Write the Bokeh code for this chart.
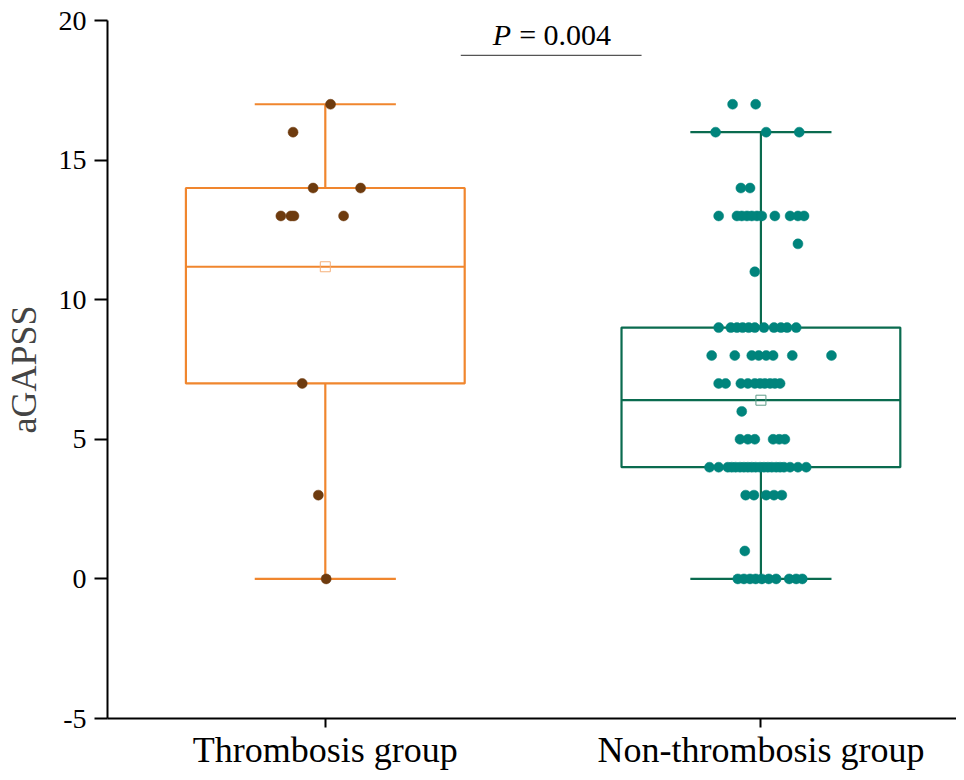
from bokeh.plotting import figure
from bokeh.models import Range1d, FixedTicker, ColumnDataSource
from bokeh.core.properties import value
from bokeh.embed import file_html
from bokeh.resources import INLINE

# ---------------- data ----------------
groups = ["Thrombosis group", "Non-thrombosis group"]
group_pos = [1, 2]

# box statistics
box_q1 = [7, 4]
box_q3 = [14, 9]
box_center = [11.18, 6.4]
box_low = [0, 0]
box_high = [17, 16]
box_mean = [11.18, 6.4]

# individual scores (with horizontal jitter in category units)
thr_vals = [17, 16, 14, 14, 13, 13, 13, 13, 7, 3, 0]
thr_jit = [0.012, -0.074, -0.028, 0.081, -0.102, -0.079, -0.072, 0.042, -0.053, -0.016, 0.002]

non_vals = (
    [17, 17]
    + [16, 16, 16]
    + [14, 14]
    + [13] * 11
    + [12]
    + [11]
    + [9] * 11
    + [8] * 8
    + [7] * 10
    + [6]
    + [5] * 6
    + [4] * 20
    + [3] * 5
    + [1]
    + [0] * 10
)
non_jit = (
    [-0.065, -0.012]
    + [-0.104, 0.012, 0.088]
    + [-0.046, -0.025]
    + [-0.097, -0.055, -0.044, -0.032, -0.021, -0.009, 0.002, 0.032, 0.067, 0.085, 0.099]
    + [0.085]
    + [-0.014]
    + [-0.097, -0.069, -0.055, -0.042, -0.028, -0.014, 0.007, 0.030, 0.046, 0.060, 0.081]
    + [-0.113, -0.060, -0.021, -0.005, 0.012, 0.028, 0.072, 0.162]
    + [-0.097, -0.081, -0.046, -0.030, -0.014, -0.002, 0.009, 0.021, 0.032, 0.044]
    + [-0.044]
    + [-0.048, -0.030, -0.014, 0.028, 0.042, 0.055]
    + [-0.118, -0.097, -0.076, -0.067, -0.058, -0.048, -0.039, -0.030, -0.021, -0.012,
       -0.002, 0.007, 0.016, 0.025, 0.035, 0.044, 0.053, 0.067, 0.085, 0.104]
    + [-0.035, -0.016, 0.012, 0.030, 0.048]
    + [-0.037]
    + [-0.053, -0.039, -0.025, -0.012, 0.002, 0.018, 0.035, 0.065, 0.081, 0.095]
)

p_text_italic = "P"
p_text_rest = "= 0.004"
sig_x = [1.311, 1.726]
sig_y = 18.75

y_ticks = [-5, 0, 5, 10, 15, 20]
y_minor = [-2.5, 2.5, 7.5, 12.5, 17.5]
y_tick_labels = ["-5", "0", "5", "10", "15", "20"]

# ---------------- style ----------------
FONT = "Liberation Serif"
box_colors = ["#F0862E", "#0A6B4F"]
pt_colors = ["#6E3B0E", "#00847C"]
mean_colors = ["#F5B07A", "#5E9C88"]
BOX_HALF = 0.32
CAP_HALF = 0.162

p = figure(width=956, height=772, output_backend="svg", toolbar_location=None,
           x_range=Range1d(0.5, 2.449), y_range=Range1d(-5, 20),
           min_border_left=100, min_border_top=20, min_border_bottom=52,
           min_border_right=0)
p.outline_line_color = None
p.grid.visible = False

# boxes
src = ColumnDataSource(dict(
    x=group_pos, q1=box_q1, q3=box_q3, c=box_center, lo=box_low, hi=box_high,
    mean=box_mean, color=box_colors, mcolor=mean_colors,
    left=[g - BOX_HALF for g in group_pos], right=[g + BOX_HALF for g in group_pos],
    capl=[g - CAP_HALF for g in group_pos], capr=[g + CAP_HALF for g in group_pos],
))
p.segment(x0="x", y0="q3", x1="x", y1="hi", source=src, line_color="color", line_width=2.2)
p.segment(x0="x", y0="lo", x1="x", y1="q1", source=src, line_color="color", line_width=2.2)
p.segment(x0="capl", y0="hi", x1="capr", y1="hi", source=src, line_color="color", line_width=2.2)
p.segment(x0="capl", y0="lo", x1="capr", y1="lo", source=src, line_color="color", line_width=2.2)
p.quad(left="left", right="right", bottom="q1", top="q3", source=src,
       fill_color=None, line_color="color", line_width=2.2)
p.segment(x0="left", y0="c", x1="right", y1="c", source=src, line_color="color", line_width=2.2)
p.scatter(x="x", y="mean", source=src, marker="square", size=10, fill_color=None,
          line_color="mcolor", line_width=1)

# points
p.scatter(x=[group_pos[0] + j for j in thr_jit], y=thr_vals, size=10,
          fill_color=pt_colors[0], line_color=pt_colors[0], line_width=0.5)
p.scatter(x=[group_pos[1] + j for j in non_jit], y=non_vals, size=10,
          fill_color=pt_colors[1], line_color=pt_colors[1], line_width=0.5)

# significance annotation
p.line(x=sig_x, y=[sig_y, sig_y], line_color="#555555", line_width=1.2)
mid = sum(sig_x) / 2
p.text(x=[mid], y=[sig_y], text=[p_text_italic], text_font=value(FONT),
       text_font_size="30px", text_font_style="italic", text_align="right",
       text_baseline="bottom", x_offset=-40, y_offset=-4, text_color="black")
p.text(x=[mid], y=[sig_y], text=[p_text_rest], text_font=value(FONT),
       text_font_size="30px", text_align="left", text_baseline="bottom",
       x_offset=-32, y_offset=-4, text_color="black")

# axes
p.yaxis.ticker = FixedTicker(ticks=y_ticks, minor_ticks=y_minor)
p.yaxis.major_label_overrides = {t: l for t, l in zip(y_ticks, y_tick_labels)}
p.yaxis.major_tick_out = 13
p.yaxis.major_tick_in = 0
p.yaxis.minor_tick_out = 7
p.yaxis.minor_tick_in = 0
p.yaxis.major_label_standoff = 8
p.yaxis.axis_label = "aGAPSS"
p.yaxis.axis_label_text_font = FONT
p.yaxis.axis_label_text_font_size = "36px"
p.yaxis.axis_label_text_font_style = "normal"
p.yaxis.axis_label_standoff = 12

p.xaxis.ticker = FixedTicker(ticks=group_pos)
p.xaxis.major_label_overrides = {group_pos[i]: groups[i] for i in range(2)}
p.xaxis.major_tick_out = 9
p.xaxis.major_tick_in = 0
p.xaxis.minor_tick_line_color = None
p.xaxis.major_label_standoff = 2

for ax in (p.xaxis, p.yaxis):
    ax.axis_line_width = 2
    ax.axis_line_color = "black"
    ax.major_tick_line_width = 2
    ax.minor_tick_line_width = 2
    ax.major_tick_line_color = "black"
    ax.minor_tick_line_color = "black" if ax is p.yaxis else None
    ax.major_label_text_font = FONT
    ax.major_label_text_color = "black"
p.yaxis.major_label_text_font_size = "28px"
p.xaxis.major_label_text_font_size = "36px"

open("out.html", "w").write(file_html(p, INLINE))
